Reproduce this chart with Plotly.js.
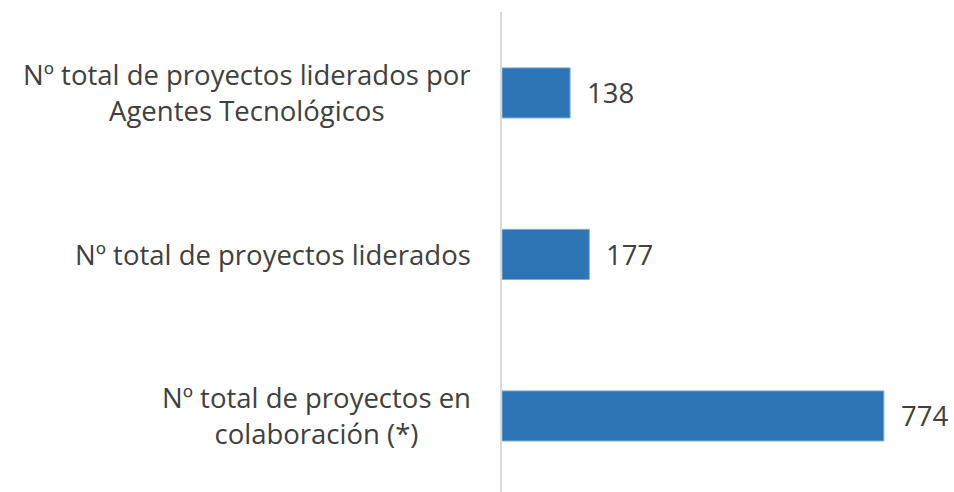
<!DOCTYPE html>
<html>
<head>
<meta charset="utf-8">
<script src="https://cdn.plot.ly/plotly-3.0.1.min.js"></script>
<style>html,body{margin:0;padding:0;background:#fff;}#chart{width:954px;height:492px;}</style>
</head>
<body>
<div id="chart"></div>
<script>
const categories = [
  "Nº total de proyectos en<br>colaboración (*)",
  "Nº total de proyectos liderados",
  "Nº total de proyectos liderados por<br>Agentes Tecnológicos"
];
const values = [774, 177, 138];
const valueLabels = ["774", "177", "138"];

const FONT = "Open Sans, Liberation Sans, sans-serif";
const TXT = "#404040";

const trace = {
  type: "bar",
  orientation: "h",
  x: values,
  y: [0, 1, 2],
  width: 0.31,
  marker: {color: "#2E75B6", line: {color: "#7FA8D6", width: 1}},
  hoverinfo: "none"
};

const annotations = [];
categories.forEach((c, i) => {
  annotations.push({
    xref: "paper", yref: "y", x: 0, y: i, text: c,
    xanchor: "right", yanchor: "middle", align: "center",
    xshift: -29, showarrow: false,
    font: {family: FONT, size: 27.5, color: TXT}
  });
  annotations.push({
    xref: "x", yref: "y", x: values[i], y: i, text: valueLabels[i],
    xanchor: "left", yanchor: "middle", xshift: 15, showarrow: false,
    font: {family: FONT, size: 27.5, color: TXT}
  });
});

const layout = {
  width: 954, height: 492,
  margin: {l: 502, r: 10, t: 12, b: 0},
  paper_bgcolor: "#fff", plot_bgcolor: "#fff",
  showlegend: false,
  xaxis: {range: [0, 896], showgrid: false, zeroline: false, showticklabels: false, showline: false, fixedrange: true},
  yaxis: {range: [-0.471, 2.501], showgrid: false, zeroline: false, showticklabels: false,
          showline: true, linecolor: "#d9d9d9", linewidth: 2, ticks: "", fixedrange: true},
  annotations: annotations
};

Plotly.newPlot("chart", [trace], layout, {displayModeBar: false, staticPlot: true});
</script>
</body>
</html>
